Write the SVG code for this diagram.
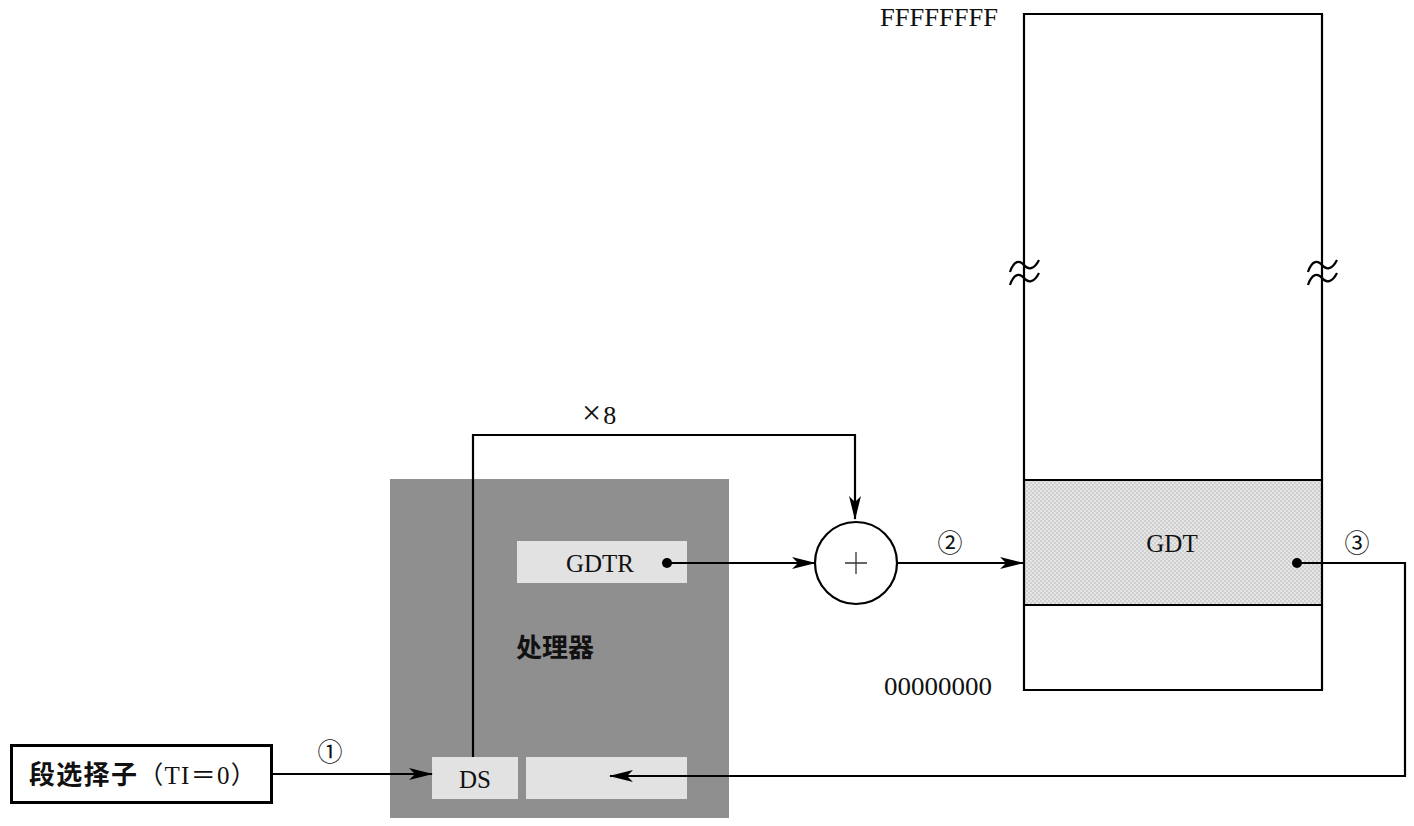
<svg xmlns="http://www.w3.org/2000/svg" width="1414" height="826" viewBox="0 0 1414 826">
<style>
.ln{fill:none;stroke:#000;stroke-width:2.2}
.t{font-family:"Liberation Serif","Noto Sans CJK SC",serif;font-size:25px;fill:#111}
.cjk{font-family:"Noto Sans CJK SC","Noto Sans CJK JP",sans-serif;font-size:26px;font-weight:bold;fill:#111}
.num{font-family:"Noto Sans CJK SC",sans-serif;font-size:25px;font-weight:normal;fill:#111}
.reg{fill:#e2e2e2}
</style>
<defs>
<marker id="arr" viewBox="0 0 24 12" refX="23" refY="6" markerWidth="24" markerHeight="12" markerUnits="userSpaceOnUse" orient="auto">
<path d="M0,0 L24,6 L0,12 L6,6 Z" fill="#000"/>
</marker>
<pattern id="hatch" width="4" height="4" patternUnits="userSpaceOnUse">
<rect width="4" height="4" fill="#e6e6e6"/>
<rect width="2" height="2" fill="#cfcfcf"/>
<rect x="2" y="2" width="2" height="2" fill="#cfcfcf"/>
</pattern>
</defs>
<rect width="1414" height="826" fill="#fff"/>

<g id="processor">
<rect x="390" y="479" width="339" height="339" fill="#8f8f8f"/>
<text class="cjk" x="516" y="657" font-size="27">处理器</text>
</g>
<g id="gdtr">
<rect class="reg" x="517" y="541" width="170" height="42"/>
<text class="t" x="600" y="572" text-anchor="middle">GDTR</text>
</g>
<g id="ds">
<rect class="reg" x="432" y="757" width="86" height="42"/>
<text class="t" x="475" y="788" text-anchor="middle">DS</text>
</g>
<g id="ds-hidden">
<rect class="reg" x="526" y="757" width="161" height="42"/>
</g>
<g id="selector">
<rect x="11.5" y="745.5" width="260" height="57" fill="#fff" stroke="#000" stroke-width="3"/>
<text x="29" y="784" letter-spacing="1.3"><tspan class="cjk">段选择子</tspan><tspan class="num" font-size="26">（</tspan><tspan class="t" font-size="26">TI</tspan><tspan class="num" font-size="26">＝</tspan><tspan class="t" font-size="26">0</tspan><tspan class="num" font-size="26">）</tspan></text>
</g>
<g id="adder">
<circle cx="856" cy="563" r="41" fill="#fff" stroke="#000" stroke-width="2.2"/>
<path d="M845,563 H867 M856,552 V574" stroke="#333" stroke-width="1.3"/>
</g>
<g id="memory">
<rect x="1024" y="480" width="298" height="125" fill="url(#hatch)"/>
<path class="ln" d="M1024,14 H1322 V690 H1024 Z M1024,480 H1322 M1024,605 H1322"/>
<path class="ln" stroke-width="2.6" d="M1010,272 C1014,260 1020,260 1024,265 C1028,270 1034,270 1039,260 M1010,285 C1014,273 1020,273 1024,278 C1028,283 1034,283 1039,273"/>
<path class="ln" stroke-width="2.6" d="M1308,272 C1312,260 1318,260 1322,265 C1326,270 1332,270 1337,260 M1308,285 C1312,273 1318,273 1322,278 C1326,283 1332,283 1337,273"/>
<text class="t" x="1172" y="552" text-anchor="middle">GDT</text>
<text class="t" x="880" y="26" textLength="118" lengthAdjust="spacingAndGlyphs">FFFFFFFF</text>
<text class="t" x="884" y="695" textLength="108" lengthAdjust="spacingAndGlyphs">00000000</text>
</g>
<g id="connectors">
<path class="ln" d="M272,774 H432" marker-end="url(#arr)"/>
<path class="ln" d="M473,757 V435 H855 V519" marker-end="url(#arr)"/>
<circle cx="667" cy="563" r="5" fill="#000"/>
<path class="ln" d="M667,563 H815" marker-end="url(#arr)"/>
<path class="ln" d="M897,563 H1023" marker-end="url(#arr)"/>
<circle cx="1297" cy="563" r="5" fill="#000"/>
<path class="ln" d="M1297,563 H1405 V776 H610" marker-end="url(#arr)"/>
<text class="num" x="330" y="761" text-anchor="middle">①</text>
<text class="num" x="950" y="552" text-anchor="middle">②</text>
<text class="num" x="1357" y="552" text-anchor="middle">③</text>
<text class="t" x="582" y="424"><tspan font-size="34">×</tspan><tspan font-size="26" dx="2">8</tspan></text>
</g>
</svg>
